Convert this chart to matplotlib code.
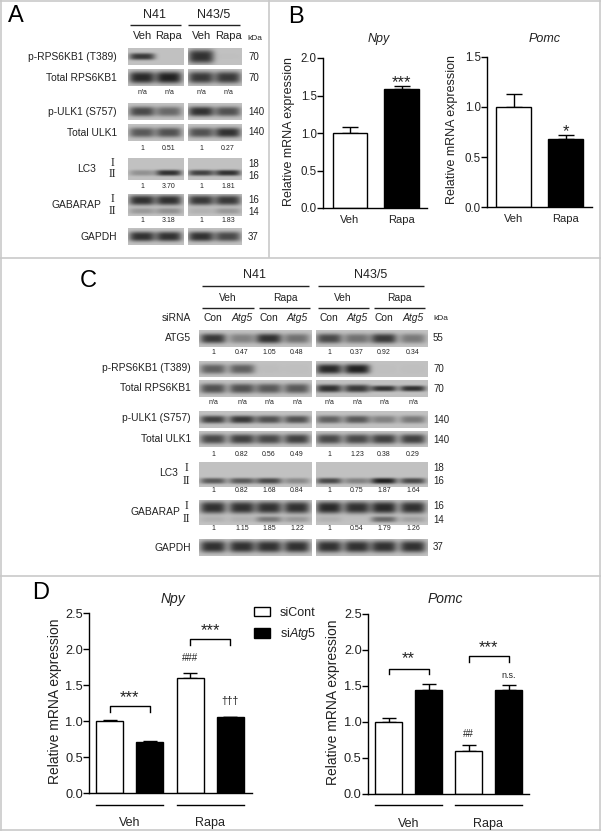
import numpy as np
import matplotlib
matplotlib.use('Agg')
import matplotlib.pyplot as plt
from matplotlib.patches import Patch

plt.rcParams['font.family'] = ['Liberation Sans', 'DejaVu Sans']
plt.rcParams['mathtext.fontset'] = 'custom'
plt.rcParams['mathtext.rm'] = 'Liberation Sans'
plt.rcParams['mathtext.it'] = 'Liberation Sans:italic'
plt.rcParams['mathtext.default'] = 'regular'

W, H = 601, 832
TXT = '#222222'

# bar charts
groups_b = ['Veh', 'Rapa']
b_npy = [1.0, 1.59]
b_npy_err = [0.08, 0.03]
b_pomc = [1.0, 0.68]
b_pomc_err = [0.125, 0.04]

groups_d = ['Veh', 'Rapa']
d_npy = [1.0, 0.71, 1.6, 1.05]
d_npy_err = [0.01, 0.01, 0.07, 0.01]
d_pomc = [1.0, 1.44, 0.6, 1.45]
d_pomc_err = [0.06, 0.09, 0.08, 0.07]

# band darkness per lane, panel A
a_prps = [0.85, 0.0, 0.9, 0.02]
a_trps = [0.95, 1.0, 0.85, 0.85]
a_pulk = [0.75, 0.55, 0.9, 0.7]
a_tulk = [0.65, 0.7, 0.7, 0.9]
a_lc3 = [0.3, 0.9, 0.8, 0.9]
a_gab1 = [0.9, 0.9, 0.85, 0.85]
a_gab2 = [0.25, 0.3, 0.1, 0.25]
a_gapdh = [0.9, 0.9, 0.9, 0.75]

a_ratio_ulk = ['1', '0.51', '1', '0.27']
a_ratio_lc3 = ['1', '3.70', '1', '1.81']
a_ratio_gab = ['1', '3.18', '1', '1.83']

# band darkness per lane, panel C
c_atg5 = [0.85, 0.4, 0.9, 0.5, 0.75, 0.5, 0.85, 0.45]
c_prps = [0.6, 0.6, 0.03, 0.02, 0.95, 1.0, 0.02, 0.02]
c_trps = [0.7, 0.7, 0.65, 0.65, 0.9, 0.85, 0.9, 0.9]
c_pulk = [0.8, 0.85, 0.7, 0.7, 0.6, 0.65, 0.4, 0.45]
c_tulk = [0.75, 0.8, 0.75, 0.8, 0.75, 0.75, 0.8, 0.8]
c_lc3 = [0.65, 0.65, 0.75, 0.35, 0.75, 0.4, 1.0, 0.75]
c_gab1 = [0.9, 0.9, 0.9, 0.9, 0.95, 0.9, 0.95, 0.9]
c_gab2 = [0.1, 0.1, 0.45, 0.25, 0.1, 0.02, 0.55, 0.2]
c_gapdh = [0.9, 0.9, 0.9, 0.9, 0.9, 0.9, 0.9, 0.9]

c_ratio_atg5 = ['1', '0.47', '1.05', '0.48', '1', '0.37', '0.92', '0.34']
c_ratio_ulk = ['1', '0.82', '0.56', '0.49', '1', '1.23', '0.38', '0.29']
c_ratio_lc3 = ['1', '0.82', '1.68', '0.84', '1', '0.75', '1.87', '1.64']
c_ratio_gab = ['1', '1.15', '1.85', '1.22', '1', '0.54', '1.79', '1.26']

fig = plt.figure(figsize=(W / 100, H / 100), dpi=100)
bg = fig.add_axes([0, 0, 1, 1])


def txt(x, y, s, size=7.4, ha='center', **kw):
    kw.setdefault('color', TXT)
    bg.text(x, y, s, fontsize=size, ha=ha, va='center', **kw)


def hline(x0, x1, y, lw=1.0, color='#222222'):
    bg.plot([x0, x1], [y, y], color=color, lw=lw, solid_capstyle='butt')


def blot(x0, x1, y0, y1, lanes, bands, half_w, base=0.76):
    # bands: (fraction down the strip, darkness per lane, half height per lane in px)
    xs = np.linspace(x0, x1, int(x1 - x0) * 2)
    ys = np.linspace(y0, y1, int(y1 - y0) * 2)
    X, Y = np.meshgrid(xs, ys)
    img = np.full(X.shape, base, dtype=float)
    for frac, dark, hh in bands:
        cy = y0 + frac * (y1 - y0)
        for cx, d, h in zip(lanes, dark, hh):
            g = np.exp(-((X - cx) / half_w) ** 4) * np.exp(-np.abs((Y - cy) / h) ** 3)
            img -= d * g * (base - 0.13)
    bg.imshow(np.clip(img, 0.13, 1), extent=[x0, x1, y1, y0], cmap='gray', vmin=0, vmax=1,
              aspect='auto', interpolation='bilinear', zorder=1)


def strips(columns, rows, n):
    for y0, y1, bands in rows:
        k = 0
        for x0, x1, lanes in columns:
            sub = [(f, d[k:k + n], np.broadcast_to(h, len(d))[k:k + n]) for f, d, h in bands]
            blot(x0, x1, y0, y1, lanes, sub, 13)
            k += n


def bar_axes(left, right, top, bottom, c0, step, ymax, yticks, vals, errs, ylabel, label_x, title, title_xy, fs, tfs, cap):
    ax = fig.add_axes([left / W, 1 - bottom / H, (right - left) / W, (bottom - top) / H])
    ax.patch.set_alpha(0)
    ax.set_xlim((left - c0) / step, (right - c0) / step)
    ax.set_ylim(0, ymax)
    for i, (v, e) in enumerate(zip(vals, errs)):
        col = 'black' if i % 2 else 'white'
        ax.bar(i, v, width=0.67, color=col, edgecolor='black', lw=1.0, zorder=2)
        ax.errorbar(i, v, yerr=[[0], [e]], color='black', capsize=cap, lw=1.0, capthick=1.0, zorder=1)
    ax.spines['top'].set_visible(False)
    ax.spines['right'].set_visible(False)
    ax.spines['left'].set_linewidth(1.0)
    ax.spines['bottom'].set_linewidth(1.0)
    ax.set_yticks(yticks, [f'{t:.1f}' for t in yticks])
    ax.tick_params(axis='y', length=4, width=1.0, labelsize=tfs, pad=0.5, labelcolor=TXT)
    txt(label_x, (top + bottom) / 2 - 2, ylabel, size=fs, rotation=90)
    txt(title_xy[0], title_xy[1], title, size=fs, style='italic')
    return ax


def bracket(ax, x0, x1, y, drop, label, dy, fs=12):
    ax.plot([x0, x0, x1, x1], [y - drop, y, y, y - drop], color='black', lw=1.0, clip_on=False)
    ax.text((x0 + x1) / 2, y + dy, label, ha='center', va='center', fontsize=fs, color=TXT)


# panel A
a_l = [(128, 184, [142, 169]), (188, 242, [201, 228])]
a_rows = [
    (48, 65, [(0.5, a_prps, [3.5, 3, 7, 3])]),
    (69, 86, [(0.5, a_trps, 6)]),
    (103, 120, [(0.5, a_pulk, 5)]),
    (124, 141, [(0.5, a_tulk, 5)]),
    (158, 180, [(0.68, a_lc3, 3)]),
    (194, 216, [(0.28, a_gab1, 5), (0.78, a_gab2, 3)]),
    (228, 245, [(0.5, a_gapdh, 5)]),
]
strips(a_l, a_rows, 2)

for lab, y in [('p-RPS6KB1 (T389)', 57), ('Total RPS6KB1', 78), ('p-ULK1 (S757)', 112),
               ('Total ULK1', 133), ('GAPDH', 237)]:
    txt(117, y, lab, ha='right')
txt(96, 169, 'LC3', ha='right')
txt(101, 205, 'GABARAP', ha='right')
for s, y in [('I', 163), ('II', 174), ('I', 199), ('II', 211)]:
    txt(112, y, s, size=8.5, family='Liberation Serif')
for s, y in [('70', 57), ('70', 78), ('140', 112), ('140', 132), ('18', 164), ('16', 176),
             ('16', 200), ('14', 212), ('37', 237)]:
    txt(248, y, s, size=7, ha='left')
txt(247, 39, 'kDa', size=6, ha='left')
txt(154, 15, 'N41', size=9)
txt(214, 15, 'N43/5', size=9)
hline(130, 181, 25)
hline(188, 240, 25)
for x, s in zip([143, 169, 202, 228], ['Veh', 'Rapa', 'Veh', 'Rapa']):
    txt(x, 36, s, size=8)
a_x = [142, 169, 201, 228]
for y, row in [(92, ['n/a'] * 4), (148, a_ratio_ulk), (186, a_ratio_lc3), (221, a_ratio_gab)]:
    for x, s in zip(a_x, row):
        txt(x, y, s, size=5)

# panel C
c_l = [(199, 312, [213, 242, 269, 297]), (316, 428, [329, 357, 384, 413])]
c_rows = [
    (330, 347, [(0.5, c_atg5, 5)]),
    (361, 377, [(0.5, c_prps, 5)]),
    (380, 397, [(0.5, c_trps, [5, 5, 5, 5, 4, 4, 3, 3])]),
    (411, 428, [(0.5, c_pulk, 4)]),
    (431, 447, [(0.5, c_tulk, 5)]),
    (462, 487, [(0.76, c_lc3, 3)]),
    (500, 525, [(0.3, c_gab1, 6), (0.78, c_gab2, 3)]),
    (539, 556, [(0.45, c_gapdh, 6)]),
]
strips(c_l, c_rows, 4)

for lab, y in [('ATG5', 338), ('p-RPS6KB1 (T389)', 368), ('Total RPS6KB1', 388),
               ('p-ULK1 (S757)', 418), ('Total ULK1', 439), ('GAPDH', 548)]:
    txt(191, y, lab, ha='right')
txt(178, 473, 'LC3', ha='right')
txt(180, 512, 'GABARAP', ha='right')
for s, y in [('I', 468), ('II', 481), ('I', 506), ('II', 519)]:
    txt(186, y, s, size=8.5, family='Liberation Serif')
for s, y in [('55', 338), ('70', 369), ('70', 389), ('140', 420), ('140', 440), ('18', 468),
             ('16', 481), ('16', 506), ('14', 520), ('37', 547)]:
    txt(433, y, s, size=7, ha='left')
txt(433, 319, 'kDa', size=6, ha='left')
txt(255, 275, 'N41', size=9)
txt(371, 275, 'N43/5', size=9)
hline(202, 309, 286)
hline(318, 424, 286)
for x, s in zip([228, 285, 343, 399], ['Veh', 'Rapa', 'Veh', 'Rapa']):
    txt(x, 298, s, size=7.4)
for a, b in [(202, 254), (259, 310), (318, 369), (374, 425)]:
    hline(a, b, 308)
txt(191, 318, 'siRNA', size=7.4, ha='right')
c_x = [213, 242, 269, 297, 329, 357, 384, 413]
for i, x in enumerate(c_x):
    if i % 2 == 0:
        txt(x, 318, 'Con', size=7.4)
    else:
        txt(x, 318, 'Atg5', size=7.4, style='italic')
for y, row in [(352, c_ratio_atg5), (403, ['n/a'] * 8), (454, c_ratio_ulk), (491, c_ratio_lc3),
               (529, c_ratio_gab)]:
    for x, s in zip(c_x, row):
        txt(x, y, s, size=5)

# frames and panel letters
fc = '#c9c9c9'
hline(0, W, 0.5, 1.2, fc)
hline(0, W, 257.5, 1.2, fc)
hline(0, W, 576, 1.2, fc)
hline(0, W, 830, 1.2, fc)
bg.plot([1, 1], [0, 830], color=fc, lw=1.2)
bg.plot([600, 600], [0, 830], color=fc, lw=1.2)
bg.plot([269, 269], [0, 257], color=fc, lw=1.2)
txt(16, 16, 'A', size=17, color='black')
txt(296, 17, 'B', size=17, color='black')
txt(88, 281, 'C', size=17, color='black')
txt(41, 593, 'D', size=17, color='black')

# panel B
ylab = 'Relative mRNA expression'
ax = bar_axes(323, 427, 58, 208, 350, 51.5, 2.0, [0, 0.5, 1.0, 1.5, 2.0], b_npy, b_npy_err,
              ylab, 289, 'Npy', (379, 39), 9, 8.3, 6)
ax.set_xticks([0, 1], groups_b)
ax.tick_params(axis='x', length=0, labelsize=8, pad=5, labelcolor=TXT)
ax.text(1, 1.67, '***', ha='center', va='center', fontsize=12, color=TXT)
ax = bar_axes(487, 592, 57, 207, 513.5, 52, 1.5, [0, 0.5, 1.0, 1.5], b_pomc, b_pomc_err,
              ylab, 452, 'Pomc', (545, 39), 9, 8.3, 6)
ax.set_xticks([0, 1], groups_b)
ax.tick_params(axis='x', length=0, labelsize=8, pad=5, labelcolor=TXT)
ax.text(1, 0.75, '*', ha='center', va='center', fontsize=12, color=TXT)

# panel D
ax = bar_axes(89, 252, 613, 793, 109.5, 40.3, 2.5, [0, 0.5, 1.0, 1.5, 2.0, 2.5], d_npy, d_npy_err,
              ylab, 55, 'Npy', (173, 599), 10, 9.2, 5)
ax.set_xticks([0.5, 2.5], groups_d)
ax.tick_params(axis='x', length=0, labelsize=9, pad=17, labelcolor=TXT)
for a, b in [(-0.33, 1.33), (1.67, 3.33)]:
    ax.plot([a, b], [-0.165, -0.165], color='black', lw=1.0, clip_on=False)
bracket(ax, 0, 1, 1.21, 0.08, '***', 0.12)
bracket(ax, 2, 3, 2.14, 0.08, '***', 0.12)
ax.text(2, 1.88, '###', ha='center', va='center', fontsize=7, color=TXT)
ax.text(3, 1.28, '\u2020\u2020\u2020', ha='center', va='center', fontsize=7.5, color=TXT)

ax = bar_axes(368, 529, 614, 794, 388.5, 40, 2.5, [0, 0.5, 1.0, 1.5, 2.0, 2.5], d_pomc, d_pomc_err,
              ylab, 333, 'Pomc', (445, 599), 10, 9.2, 5)
ax.set_xticks([0.5, 2.5], groups_d)
ax.tick_params(axis='x', length=0, labelsize=9, pad=17, labelcolor=TXT)
for a, b in [(-0.33, 1.33), (1.67, 3.33)]:
    ax.plot([a, b], [-0.15, -0.15], color='black', lw=1.0, clip_on=False)
bracket(ax, 0, 1, 1.74, 0.08, '**', 0.14)
bracket(ax, 2, 3, 1.91, 0.08, '***', 0.12)
ax.text(2, 0.83, '##', ha='center', va='center', fontsize=7, color=TXT)
ax.text(3, 1.65, 'n.s.', ha='center', va='center', fontsize=6.5, color=TXT)

handles = [Patch(facecolor='white', edgecolor='black', lw=1.0, label='siCont'),
           Patch(facecolor='black', edgecolor='black', lw=1.0, label='si$\\mathit{Atg5}$')]
fig.legend(handles=handles, loc='upper left', bbox_to_anchor=(251 / W, 1 - 604 / H), frameon=False,
           fontsize=9, handlelength=1.35, handleheight=0.8, labelspacing=0.62, handletextpad=0.75,
           borderpad=0.2, borderaxespad=0, labelcolor=TXT)

bg.set_xlim(0, W)
bg.set_ylim(H, 0)
bg.axis('off')

fig.savefig('out.png', dpi=100)
